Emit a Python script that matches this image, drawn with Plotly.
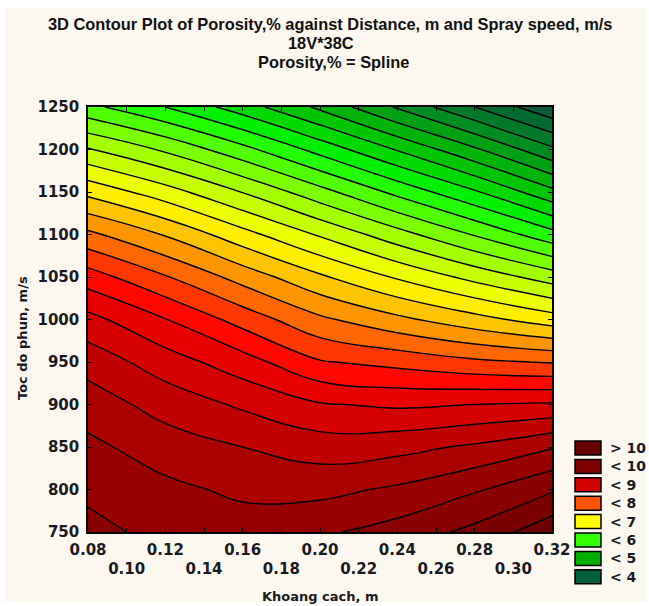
import plotly.graph_objects as go

# ---- data ----
distance = [0.08, 0.12, 0.16, 0.20, 0.24, 0.28, 0.32]          # Khoang cach, m
speed = [750, 800, 850, 900, 950, 1000, 1050, 1100, 1150, 1200, 1250]  # Toc do phun, m/s

por_750 = [9.82, 9.68, 9.62, 9.71, 9.85, 10.07, 10.42]
por_800 = [9.70, 9.56, 9.45, 9.43, 9.54, 9.72, 9.97]
por_850 = [9.56, 9.375, 9.25, 9.13, 9.17, 9.29, 9.48]
por_900 = [9.38, 9.15, 8.96, 8.77, 8.71, 8.75, 8.78]
por_950 = [9.15, 8.87, 8.61, 8.27, 8.17, 8.05, 7.98]
por_1000 = [8.83, 8.51, 8.15, 7.80, 7.56, 7.34, 7.12]
por_1050 = [8.37, 8.02, 7.65, 7.29, 6.97, 6.67, 6.38]
por_1100 = [7.81, 7.48, 7.09, 6.72, 6.35, 5.98, 5.59]
por_1150 = [7.18, 6.86, 6.49, 6.09, 5.68, 5.28, 4.82]
por_1200 = [6.52, 6.21, 5.83, 5.41, 4.98, 4.54, 4.05]
por_1250 = [5.82, 5.50, 5.12, 4.70, 4.22, 3.75, 3.30]

x_tickvals = [0.08, 0.10, 0.12, 0.14, 0.16, 0.18, 0.20, 0.22, 0.24, 0.26, 0.28, 0.30, 0.32]
x_ticklabels = ["0.08", "0.10", "0.12", "0.14", "0.16", "0.18", "0.20",
                "0.22", "0.24", "0.26", "0.28", "0.30", "0.32"]
y_tickvals = [750, 800, 850, 900, 950, 1000, 1050, 1100, 1150, 1200, 1250]

legend_labels = ["> 10", "< 10", "< 9", "< 8", "< 7", "< 6", "< 5", "< 4"]
legend_colors = ["#6c0000", "#800000", "#d20000", "#ff5500", "#ffff00", "#33ff00", "#00b000", "#006038"]

# fill colour of each 0.25-wide band, keyed by the band's mid value
band_mids = [3.375, 3.625, 3.875, 4.125, 4.375, 4.625, 4.875, 5.125, 5.375, 5.625,
             5.875, 6.125, 6.375, 6.625, 6.875, 7.125, 7.375, 7.625, 7.875, 8.125,
             8.375, 8.625, 8.875, 9.125, 9.375, 9.625, 9.875, 10.125, 10.375]
band_colors = ["#0a5c3a", "#006a30", "#007a28", "#008c20", "#00a014", "#00b20a", "#00c400",
               "#00d800", "#00ee00", "#22ff00", "#50ff00", "#7cff00", "#a4ff00", "#c8ff00",
               "#ecff00", "#ffee00", "#ffc400", "#ff9600", "#ff6800", "#ff3800", "#ff0800",
               "#e80000", "#d40000", "#c00000", "#aa0000", "#980000", "#880000", "#7a0000",
               "#6e0000"]

z = [por_750, por_800, por_850, por_900, por_950, por_1000, por_1050,
     por_1100, por_1150, por_1200, por_1250]

ZMIN, ZMAX = band_mids[0], band_mids[-1]
colorscale = [[(v - ZMIN) / (ZMAX - ZMIN), c] for v, c in zip(band_mids, band_colors)]

W, H = 649, 606
L, R, T, B = 88, 552, 107, 532  # plot area in window pixels
CREAM = "#fdf8ef"

def px(xp):
    return (xp - L) / (R - L)

def py(yp):
    return (B - yp) / (B - T)

fig = go.Figure()
fig.add_trace(go.Contour(
    x=distance, y=speed, z=z,
    colorscale=colorscale, zmin=ZMIN, zmax=ZMAX, showscale=False,
    autocontour=False,
    contours=dict(start=3.5, end=10.25, size=0.25, coloring="fill"),
    line=dict(color="black", width=1.4, smoothing=1.3),
    hoverinfo="skip",
))

TXT = "#1a1a22"
tick_font = dict(family="DejaVu Sans", size=15, color=TXT, weight="bold")
title_font = dict(family="DejaVu Sans", size=13, color=TXT, weight="bold")

x_text = [t if i % 2 == 0 else "<br>" + t for i, t in enumerate(x_ticklabels)]

fig.update_layout(
    width=W, height=H,
    margin=dict(l=L, r=W - R, t=T, b=H - B, pad=0),
    paper_bgcolor="white", plot_bgcolor=CREAM,
    showlegend=False,
    xaxis=dict(range=[0.08, 0.32], tickvals=x_tickvals, ticktext=x_text,
               ticks="inside", ticklen=4, tickwidth=1, tickcolor="black",
               showline=True, linecolor="black", linewidth=1.5, mirror="ticks",
               showgrid=False, zeroline=False, tickfont=tick_font, tickangle=0,
               automargin=False, ticklabelstandoff=3,
               minor=dict(ticks="inside", ticklen=3, nticks=3, tickcolor="black")),
    yaxis=dict(range=[750, 1250], tickvals=y_tickvals,
               ticks="inside", ticklen=4, tickwidth=1, tickcolor="black",
               showline=True, linecolor="black", linewidth=1.5, mirror="ticks",
               showgrid=False, zeroline=False, tickfont=tick_font,
               automargin=False, ticklabelstandoff=4,
               minor=dict(ticks="inside", ticklen=3, nticks=3, tickcolor="black")),
)

# cream page panel with a thin white border, as in the reference
fig.add_shape(type="rect", xref="paper", yref="paper", layer="below",
              x0=px(5), x1=px(646), y0=py(602), y1=py(8),
              fillcolor=CREAM, line=dict(width=0))

# axis titles
fig.add_annotation(text="Khoang cach, m", x=px(320), y=py(596), xref="paper", yref="paper",
                   showarrow=False, xanchor="center", yanchor="middle", font=title_font)
fig.add_annotation(text="Toc do phun, m/s", x=px(22), y=py(338), xref="paper", yref="paper",
                   showarrow=False, xanchor="center", yanchor="middle", textangle=-90,
                   font=title_font)

title_lines = ["3D Contour Plot of Porosity,% against Distance, m and Spray speed, m/s",
               "18V*38C", "Porosity,% = Spline"]
title_y = [24, 43, 62]
title_x = [330, 321, 333]
for t, ty, tx in zip(title_lines, title_y, title_x):
    fig.add_annotation(text=t, x=px(tx), y=py(ty), xref="paper", yref="paper",
                       showarrow=False, xanchor="center", yanchor="middle",
                       font=dict(family="Liberation Sans", size=16.4, color="#111111", weight="bold"))

# legend (boxes + labels)
box_top0, box_h, box_step = 441, 14, 18.4
for i, (lab, col) in enumerate(zip(legend_labels, legend_colors)):
    y0 = box_top0 + i * box_step
    fig.add_shape(type="rect", xref="paper", yref="paper",
                  x0=px(575), x1=px(601), y0=py(y0 + box_h), y1=py(y0),
                  fillcolor=col, line=dict(color="black", width=1.5))
    fig.add_annotation(text=lab, xref="paper", yref="paper", x=px(608), y=py(y0 + box_h / 2),
                       xanchor="left", yanchor="middle", showarrow=False,
                       font=dict(family="DejaVu Sans", size=14, color=TXT, weight="bold"))

fig.write_html("out.html", config={"displayModeBar": False},
               post_script="document.body.style.margin='0';document.body.style.overflow='hidden';")
